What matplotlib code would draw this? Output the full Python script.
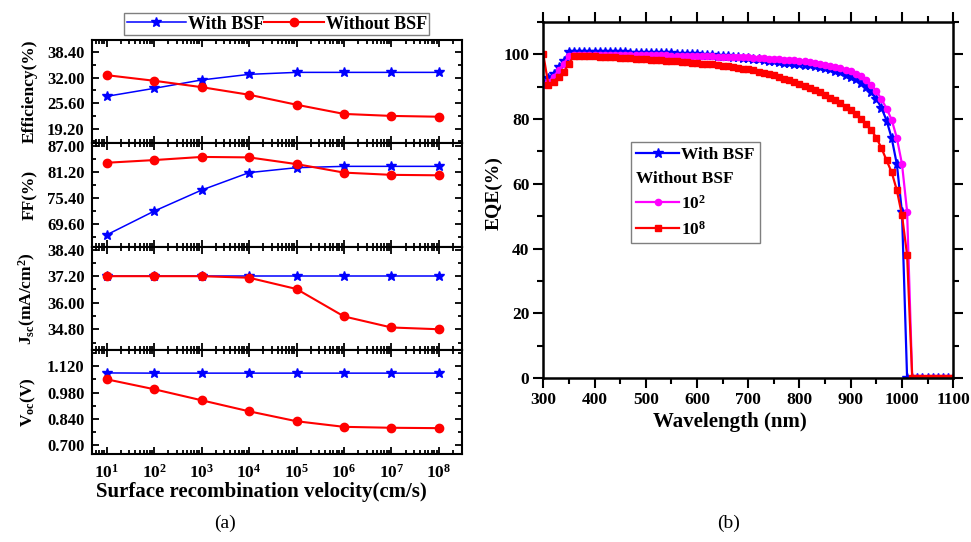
import numpy as np
import matplotlib
matplotlib.use('Agg')
import matplotlib.pyplot as plt
from matplotlib.lines import Line2D
from matplotlib.ticker import MultipleLocator, FormatStrFormatter, LogLocator, NullFormatter

plt.rcParams['font.family'] = 'serif'
plt.rcParams['font.serif'] = ['Liberation Serif', 'DejaVu Serif']
plt.rcParams['font.weight'] = 'bold'
plt.rcParams['axes.labelweight'] = 'bold'
plt.rcParams['mathtext.fontset'] = 'custom'
plt.rcParams['mathtext.rm'] = 'Liberation Serif:bold'
plt.rcParams['mathtext.it'] = 'Liberation Serif:italic:bold'
plt.rcParams['mathtext.bf'] = 'Liberation Serif:bold'
plt.rcParams['mathtext.default'] = 'rm'

# (a) parametros vs velocidad de recombinacion superficial
srv = [1e1, 1e2, 1e3, 1e4, 1e5, 1e6, 1e7, 1e8]
eff_bsf = [27.3, 29.3, 31.4, 32.8, 33.3, 33.3, 33.3, 33.3]
eff_no = [32.6, 31.2, 29.6, 27.7, 25.2, 22.9, 22.4, 22.2]
ff_bsf = [67.2, 72.5, 77.2, 81.1, 82.2, 82.5, 82.5, 82.5]
ff_no = [83.3, 83.9, 84.6, 84.5, 83.0, 81.1, 80.6, 80.5]
jsc_bsf = [37.2, 37.2, 37.2, 37.2, 37.2, 37.2, 37.2, 37.2]
jsc_no = [37.2, 37.2, 37.2, 37.13, 36.62, 35.38, 34.88, 34.8]
voc_bsf = [1.085, 1.084, 1.084, 1.084, 1.084, 1.084, 1.084, 1.084]
voc_no = [1.051, 0.998, 0.939, 0.880, 0.827, 0.797, 0.792, 0.790]

# (b) EQE
wl = [300, 310, 320, 330, 340, 350, 360, 370, 380, 390,
      400, 410, 420, 430, 440, 450, 460, 470, 480, 490,
      500, 510, 520, 530, 540, 550, 560, 570, 580, 590,
      600, 610, 620, 630, 640, 650, 660, 670, 680, 690,
      700, 710, 720, 730, 740, 750, 760, 770, 780, 790,
      800, 810, 820, 830, 840, 850, 860, 870, 880, 890,
      900, 910, 920, 930, 940, 950, 960, 970, 980, 990,
      1000, 1010, 1020, 1030, 1040, 1050, 1060, 1070, 1080, 1090,
      1100]
eqe_bsf = [91.0, 92.5, 94.0, 96.0, 98.0, 100.5, 100.6, 100.6, 100.6, 100.6,
           100.6, 100.6, 100.5, 100.5, 100.5, 100.5, 100.5, 100.4, 100.4, 100.4,
           100.4, 100.3, 100.3, 100.3, 100.2, 100.2, 100.1, 100.1, 100.0, 100.0,
           99.9, 99.8, 99.7, 99.6, 99.5, 99.4, 99.3, 99.2, 99.0, 98.9,
           98.7, 98.6, 98.4, 98.2, 98.0, 97.8, 97.6, 97.4, 97.2, 97.0,
           96.9, 96.7, 96.5, 96.2, 95.9, 95.6, 95.3, 94.9, 94.4, 93.7,
           93.0, 92.2, 91.2, 90.0, 88.3, 86.2, 83.4, 79.5, 74.0, 66.0,
           51.2, 0, 0, 0, 0, 0, 0, 0, 0, 0,
           0]
eqe_102 = [90.5, 91.5, 93.0, 95.0, 97.0, 99.5, 99.7, 99.7, 99.7, 99.7,
           99.7, 99.7, 99.7, 99.7, 99.7, 99.7, 99.7, 99.6, 99.6, 99.6,
           99.6, 99.6, 99.6, 99.6, 99.6, 99.5, 99.5, 99.5, 99.5, 99.4,
           99.4, 99.4, 99.3, 99.3, 99.2, 99.2, 99.2, 99.1, 99.1, 99.0,
           99.0, 98.9, 98.8, 98.7, 98.6, 98.5, 98.4, 98.3, 98.2, 98.1,
           98.0, 97.8, 97.6, 97.3, 97.0, 96.7, 96.4, 96.0, 95.6, 95.2,
           94.7, 94.0, 93.2, 92.1, 90.6, 88.6, 86.1, 83.2, 79.7, 74.1,
           66.1, 51.4, 0, 0, 0, 0, 0, 0, 0, 0,
           0]
eqe_108 = [100.0, 90.5, 91.5, 93.0, 94.5, 97.0, 99.5, 99.4, 99.4, 99.3,
           99.3, 99.2, 99.1, 99.1, 99.0, 98.9, 98.8, 98.7, 98.6, 98.5,
           98.4, 98.3, 98.2, 98.1, 98.0, 97.9, 97.8, 97.7, 97.5, 97.4,
           97.3, 97.1, 97.0, 96.8, 96.6, 96.4, 96.2, 96.0, 95.8, 95.5,
           95.3, 95.0, 94.6, 94.2, 93.8, 93.4, 92.9, 92.4, 91.9, 91.4,
           90.9, 90.3, 89.6, 88.9, 88.2, 87.4, 86.6, 85.7, 84.8, 83.8,
           82.7, 81.5, 80.1, 78.5, 76.6, 74.2, 71.0, 67.2, 63.5, 58.0,
           50.3, 38.0, 0, 0, 0, 0, 0, 0, 0, 0,
           0]

azul = '#0000FF'
rojo = '#FF0000'
magenta = '#FF00FF'

fig = plt.figure(figsize=(9.71, 5.42), dpi=100)

# ---- panel (a): 4 ejes apilados ----
left, width = 0.0944, 0.381
bottom, top = 0.1624, 0.9262
h = (top - bottom) / 4

paneles = [
    ('Efficiency(%)', eff_bsf, eff_no, (15.5, 41.4), [19.2, 25.6, 32.0, 38.4], 3.2, '%.2f'),
    ('FF(%)', ff_bsf, ff_no, (64.5, 87.6), [69.6, 75.4, 81.2, 87.0], 2.9, '%.2f'),
    ('J$_{sc}$(mA/cm$^2$)', jsc_bsf, jsc_no, (33.84, 38.52), [34.8, 36.0, 37.2, 38.4], 0.6, '%.2f'),
    ('V$_{oc}$(V)', voc_bsf, voc_no, (0.652, 1.205), [0.70, 0.84, 0.98, 1.12], 0.07, '%.3f'),
]

axes_a = []
for i, (etiqueta, yb, yn, lim, ticks, menor, fmt) in enumerate(paneles):
    ax = fig.add_axes([left, top - (i + 1) * h, width, h])
    ax.plot(srv, yb, color=azul, marker='*', ms=7.5, lw=1.1, label='With BSF')
    ax.plot(srv, yn, color=rojo, marker='o', ms=6, lw=1.5, label='Without BSF')
    ax.set_xscale('log')
    ax.set_xticks(srv)
    ax.set_xlim(10 ** 0.684, 10 ** 8.478)
    ax.set_yticks(ticks)
    ax.set_ylim(*lim)
    ax.yaxis.set_minor_locator(MultipleLocator(menor))
    ax.yaxis.set_major_formatter(FormatStrFormatter(fmt))
    ax.xaxis.set_minor_locator(LogLocator(base=10, subs=np.arange(2, 10), numticks=20))
    ax.xaxis.set_minor_formatter(NullFormatter())
    ax.tick_params(which='both', direction='in', top=True, right=True, width=1.3, labelsize=12)
    ax.tick_params(which='major', length=5, pad=5)
    ax.tick_params(which='minor', length=3)
    if i < 3:
        ax.tick_params(axis='x', labelbottom=False)
    ax.set_ylabel(etiqueta, fontsize=12.5)
    ax.yaxis.set_label_coords(-0.145, 0.5)
    for s in ax.spines.values():
        s.set_linewidth(1.5)
    axes_a.append(ax)

axes_a[-1].set_xlabel('Surface recombination velocity(cm/s)', fontsize=15)
axes_a[-1].xaxis.set_label_coords(0.459, -0.275)
axes_a[-1].tick_params(axis='x', pad=7, labelsize=12.5)

axes_a[0].legend(loc='lower center', bbox_to_anchor=(0.5, 1.045), ncol=2, fontsize=13,
                 handlelength=3.3, handletextpad=0.1, columnspacing=0.0, borderpad=0.15,
                 borderaxespad=0, frameon=True, fancybox=False, edgecolor='#7f7f7f',
                 framealpha=1)

# ---- panel (b): EQE ----
ax_b = fig.add_axes([0.5595, 0.302, 0.4222, 0.658])
ax_b.plot(wl, eqe_bsf, color=azul, marker='*', ms=7, lw=1.6, label='With BSF')
ax_b.plot(wl, eqe_102, color=magenta, marker='o', ms=4.5, lw=1.6, label='10$^2$')
ax_b.plot(wl, eqe_108, color=rojo, marker='s', ms=4.5, lw=1.6, label='10$^8$')
ax_b.set_xlim(300, 1100)
ax_b.set_ylim(0, 110)
ax_b.xaxis.set_major_locator(MultipleLocator(100))
ax_b.xaxis.set_minor_locator(MultipleLocator(50))
ax_b.yaxis.set_major_locator(MultipleLocator(20))
ax_b.yaxis.set_minor_locator(MultipleLocator(10))
ax_b.yaxis.set_major_formatter(FormatStrFormatter('%d'))
ax_b.tick_params(which='both', direction='out', top=True, right=True, width=1.5, labelsize=12.5)
ax_b.tick_params(which='major', length=7, pad=3)
ax_b.tick_params(which='minor', length=4)
for s in ax_b.spines.values():
    s.set_linewidth(1.8)
ax_b.set_xlabel('Wavelength (nm)', fontsize=15)
ax_b.xaxis.set_label_coords(0.455, -0.095)
ax_b.set_ylabel('EQE(%)', fontsize=14)
ax_b.yaxis.set_label_coords(-0.1, 0.52)

hs, ls = ax_b.get_legend_handles_labels()
vacio = Line2D([], [], linestyle='none')
leg = ax_b.legend([hs[0], vacio, hs[1], hs[2]], [ls[0], 'Without BSF', ls[1], ls[2]],
                  loc='upper left', bbox_to_anchor=(0.213, 0.6635), fontsize=12.5,
                  handlelength=2.5, handletextpad=0.1, labelspacing=0.45, borderpad=0.3,
                  borderaxespad=0, fancybox=False, edgecolor='#7f7f7f', framealpha=1)
# "Without BSF" sin simbolo, alineado a la izquierda
try:
    fila = leg._legend_handle_box.get_children()[0].get_children()[1]
    fila._children = [fila._children[1]]
except Exception:
    pass

fig.text(0.2317, 0.035, '(a)', ha='center', va='center', fontsize=14, fontweight='normal')
fig.text(0.75, 0.035, '(b)', ha='center', va='center', fontsize=14, fontweight='normal')

fig.savefig('out.png', dpi=100)
